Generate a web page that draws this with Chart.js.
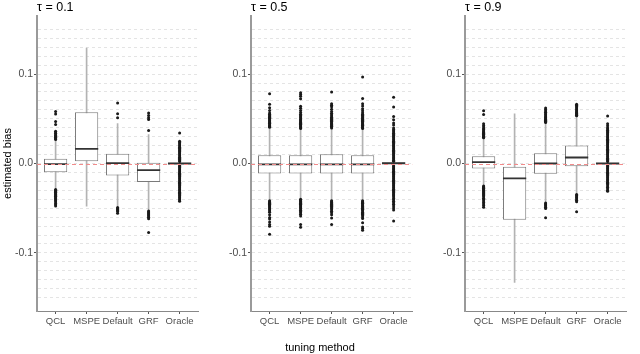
<!DOCTYPE html>
<html>
<head>
<meta charset="utf-8">
<script src="https://cdn.jsdelivr.net/npm/chart.js@4"></script>
<style>
  body { margin: 0; background: #fff; width: 640px; height: 354px; overflow: hidden; }
  .panel { position: absolute; top: 0; height: 354px; }
  #xtitle { position: absolute; left: 0; top: 340px; width: 640px; text-align: center;
            font: 11px "Liberation Sans", Arial, sans-serif; line-height: 14px; color: #000; }
</style>
</head>
<body>
<div class="panel" style="left:0;width:212px"><canvas id="c1"></canvas></div>
<div class="panel" style="left:214px;width:212px"><canvas id="c2"></canvas></div>
<div class="panel" style="left:428px;width:212px"><canvas id="c3"></canvas></div>
<div id="xtitle">tuning method</div>
<script>
const methods = ['QCL', 'MSPE', 'Default', 'GRF', 'Oracle'];
const yGrid = [-0.15, -0.14, -0.13, -0.12, -0.11, -0.1, -0.09, -0.08, -0.07, -0.06, -0.05, -0.04, -0.03, -0.02, -0.01, 0,
               0.01, 0.02, 0.03, 0.04, 0.05, 0.06, 0.07, 0.08, 0.09, 0.1, 0.11, 0.12, 0.13, 0.14, 0.15];
const yLabelled = [-0.1, 0, 0.1];
const yLabelText = ['-0.1', '0.0', '0.1'];

// tau = 0.1
const q1A  = [-0.0097, 0.0026, -0.0134, -0.0208, -0.0007];
const medA = [-0.0006, 0.0164, 0.0004, -0.0075, 0.0];
const q3A  = [0.0052, 0.0572, 0.0108, 0.0008, 0.0007];
const loA  = [-0.028, -0.0476, -0.048, -0.052, -0.002];
const hiA  = [0.026, 0.129, 0.0446, 0.0323, 0.002];
const outA = [
  [0.0268, 0.0276, 0.0284, 0.0293, 0.0301, 0.0312, 0.0323, 0.0338, 0.0352, 0.0362, 0.0435, 0.0471, 0.0554, 0.0583,
   -0.0291, -0.0298, -0.0306, -0.0314, -0.0322, -0.0331, -0.0339, -0.0348, -0.0357, -0.0366, -0.0375, -0.0385,
   -0.0394, -0.0405, -0.0418, -0.0431, -0.0447, -0.0462, -0.0476],
  [],
  [0.0512, 0.0557, 0.0677, -0.0492, -0.0503, -0.0514, -0.0526, -0.0538, -0.0556],
  [0.0368, 0.0492, 0.0513, 0.0538, 0.0565, -0.0531, -0.0542, -0.0553, -0.0565, -0.0577, -0.0588, -0.0601, -0.0618, -0.0773],
  [0.0022, 0.0034, 0.0047, 0.0058, 0.0071, 0.0083, 0.0096, 0.0108, 0.0121, 0.0133, 0.0146, 0.0158, 0.0171, 0.0183,
   0.0196, 0.0208, 0.0221, 0.0236, 0.0249, 0.0342,
   -0.0021, -0.0033, -0.0046, -0.0058, -0.0071, -0.0083, -0.0096, -0.0108, -0.0121, -0.0134, -0.0146, -0.0159,
   -0.0171, -0.0184, -0.0197, -0.0209, -0.0222, -0.0234, -0.0247, -0.0259, -0.0272, -0.0284, -0.0297, -0.0309,
   -0.0322, -0.0334, -0.0347, -0.0359, -0.0372, -0.0384, -0.0397, -0.0409, -0.0421]
];

// tau = 0.5
const q1B  = [-0.0112, -0.0112, -0.0112, -0.0112, -0.0005];
const medB = [-0.001, -0.001, -0.001, -0.001, 0.0003];
const q3B  = [0.0092, 0.0092, 0.0103, 0.0092, 0.0012];
const loB  = [-0.041, -0.039, -0.041, -0.041, -0.002];
const hiB  = [0.039, 0.038, 0.039, 0.038, 0.0022];
const outB = [
  [0.0405, 0.0414, 0.0423, 0.0432, 0.0441, 0.0450, 0.0459, 0.0468, 0.0478, 0.0487, 0.0497, 0.0506, 0.0516, 0.0527,
   0.0538, 0.0551, 0.0566, 0.0593, 0.0625, 0.0662, 0.0781,
   -0.0418, -0.0427, -0.0436, -0.0446, -0.0455, -0.0465, -0.0474, -0.0484, -0.0495, -0.0506, -0.0518, -0.0531,
   -0.0545, -0.0572, -0.0604, -0.0621, -0.0655, -0.0683, -0.0702, -0.0791],
  [0.0392, 0.0401, 0.0411, 0.0420, 0.0430, 0.0439, 0.0449, 0.0458, 0.0468, 0.0478, 0.0489, 0.0499, 0.0511, 0.0524,
   0.0537, 0.0552, 0.0571, 0.0593, 0.0618, 0.0641, 0.0723, 0.0751, 0.0772, 0.0791,
   -0.0399, -0.0408, -0.0417, -0.0426, -0.0436, -0.0445, -0.0455, -0.0465, -0.0475, -0.0486, -0.0497, -0.0509,
   -0.0522, -0.0536, -0.0551, -0.0568, -0.0587, -0.0682, -0.0712],
  [0.0398, 0.0407, 0.0416, 0.0425, 0.0435, 0.0444, 0.0454, 0.0464, 0.0474, 0.0484, 0.0495, 0.0506, 0.0518, 0.0531,
   0.0545, 0.0561, 0.0583, 0.0608, 0.0634, 0.0652, 0.0668, 0.0799,
   -0.0418, -0.0427, -0.0437, -0.0447, -0.0457, -0.0468, -0.0479, -0.0491, -0.0504, -0.0518, -0.0533, -0.0552,
   -0.0574, -0.0609, -0.0681],
  [0.0392, 0.0401, 0.0410, 0.0419, 0.0428, 0.0437, 0.0446, 0.0455, 0.0465, 0.0474, 0.0484, 0.0494, 0.0504, 0.0515,
   0.0527, 0.0539, 0.0552, 0.0567, 0.0589, 0.0613, 0.0642, 0.0668, 0.0728, 0.0967,
   -0.0418, -0.0427, -0.0436, -0.0445, -0.0454, -0.0463, -0.0472, -0.0481, -0.0491, -0.0501, -0.0511, -0.0521,
   -0.0532, -0.0544, -0.0556, -0.0569, -0.0583, -0.0598, -0.0614, -0.0663, -0.0711, -0.0728, -0.0746],
  [0.0024, 0.0036, 0.0049, 0.0061, 0.0074, 0.0086, 0.0099, 0.0111, 0.0124, 0.0136, 0.0149, 0.0161, 0.0174, 0.0186,
   0.0199, 0.0211, 0.0224, 0.0237, 0.0249, 0.0262, 0.0274, 0.0287, 0.0299, 0.0312, 0.0325, 0.0338, 0.0352, 0.0367,
   0.0381, 0.0398, 0.0431, 0.0452, 0.0489, 0.0526, 0.0631, 0.0741,
   -0.0024, -0.0037, -0.0049, -0.0062, -0.0074, -0.0087, -0.0099, -0.0112, -0.0124, -0.0137, -0.0149, -0.0162,
   -0.0174, -0.0187, -0.0199, -0.0212, -0.0224, -0.0237, -0.0249, -0.0262, -0.0274, -0.0287, -0.0299, -0.0312,
   -0.0324, -0.0337, -0.0349, -0.0362, -0.0376, -0.0391, -0.0405, -0.0421, -0.0438, -0.0457, -0.0476, -0.0498,
   -0.0521, -0.0642]
];

// tau = 0.9
const q1C  = [-0.0056, -0.063, -0.0115, -0.003, -0.0007];
const medC = [0.0015, -0.0167, 0.0, 0.0067, 0.0];
const q3C  = [0.0082, -0.0037, 0.0115, 0.020, 0.0008];
const loC  = [-0.024, -0.133, -0.043, -0.0345, -0.002];
const hiC  = [0.028, 0.0557, 0.0455, 0.053, 0.002];
const outC = [
  [0.0287, 0.0295, 0.0303, 0.0311, 0.0319, 0.0328, 0.0337, 0.0346, 0.0356, 0.0367, 0.0379, 0.0392, 0.0408, 0.0425,
   0.0446, 0.0548, 0.0591,
   -0.0251, -0.0259, -0.0268, -0.0276, -0.0285, -0.0294, -0.0303, -0.0313, -0.0324, -0.0335, -0.0347, -0.0359,
   -0.0373, -0.0388, -0.0403, -0.0419, -0.0436, -0.0452, -0.0471, -0.0489],
  [],
  [0.0458, 0.0466, 0.0474, 0.0483, 0.0492, 0.0501, 0.0511, 0.0521, 0.0532, 0.0544, 0.0557, 0.0572, 0.0588, 0.0604,
   0.0621, -0.0441, -0.0452, -0.0463, -0.0476, -0.0489, -0.0502, -0.0606],
  [0.0533, 0.0541, 0.0549, 0.0558, 0.0567, 0.0577, 0.0588, 0.0599, 0.0611, 0.0624, 0.0638, 0.0651, 0.0663,
   -0.0348, -0.0359, -0.0371, -0.0384, -0.0397, -0.0412, -0.0428, -0.0541],
  [0.0022, 0.0034, 0.0047, 0.0059, 0.0072, 0.0084, 0.0097, 0.0109, 0.0122, 0.0134, 0.0147, 0.0159, 0.0172, 0.0184,
   0.0197, 0.0209, 0.0222, 0.0234, 0.0247, 0.0259, 0.0272, 0.0284, 0.0297, 0.0309, 0.0322, 0.0334, 0.0347, 0.0359,
   0.0372, 0.0386, 0.0401, 0.0423, 0.0446, 0.0532,
   -0.0022, -0.0034, -0.0047, -0.0059, -0.0072, -0.0084, -0.0097, -0.0109, -0.0122, -0.0134, -0.0147, -0.0159,
   -0.0172, -0.0184, -0.0197, -0.0209, -0.0222, -0.0236, -0.0251, -0.0266, -0.0283, -0.0298, -0.0311]
];

Chart.defaults.font.family = '"Liberation Sans", Arial, sans-serif';

const isLabelled = v => yLabelled.some(t => Math.abs(t - v) < 1e-9);

// red dashed reference line at 0, on top of the boxes
const zeroLine = {
  id: 'zeroLine',
  afterDatasetsDraw(chart) {
    const {ctx, chartArea: a, scales: {y}} = chart;
    const py = Math.round(y.getPixelForValue(0)) + 0.5;
    ctx.save();
    ctx.strokeStyle = '#f28b8b';
    ctx.lineWidth = 1;
    ctx.setLineDash([4, 3]);
    ctx.beginPath();
    ctx.moveTo(a.left, py);
    ctx.lineTo(a.right, py);
    ctx.stroke();
    ctx.restore();
  }
};

// facet strip title, left aligned with the panel
const panelTitle = {
  id: 'panelTitle',
  afterDraw(chart, args, opts) {
    const ctx = chart.ctx;
    ctx.save();
    ctx.font = '12.5px "Liberation Sans", Arial, sans-serif';
    ctx.fillStyle = '#000';
    ctx.textBaseline = 'middle';
    ctx.fillText(opts.text, chart.chartArea.left, 8);
    ctx.restore();
  }
};

function boxHalf(chart) {
  const a = chart.chartArea;
  return a ? (a.right - a.left) / 5.2 * 0.75 / 2 : 12;
}

function makePanel(id, tau, q1, med, q3, lo, hi, out, yTitle) {
  const pos = methods.map((m, i) => i + 1);
  new Chart(document.getElementById(id), {
    type: 'bar',
    data: {
      datasets: [
        {
          type: 'line', label: 'outliers', order: 0, showLine: false,
          data: out.flatMap((vals, i) => vals.map(v => ({x: pos[i], y: v}))),
          pointRadius: 1.5, pointBackgroundColor: '#1a1a1a', pointBorderWidth: 0
        },
        {
          type: 'line', label: 'median', order: 1, showLine: false,
          data: med.map((v, i) => ({x: pos[i], y: v})),
          pointStyle: 'line', pointRadius: ctx => boxHalf(ctx.chart),
          pointBorderColor: '#333', pointBorderWidth: 1.8
        },
        {
          type: 'bar', label: 'box', order: 2, grouped: false,
          data: q1.map((v, i) => ({x: pos[i], y: [v, q3[i]]})),
          backgroundColor: '#fff', borderColor: '#7a7a7a', borderWidth: 1, borderSkipped: false,
          barPercentage: 0.75, categoryPercentage: 1
        },
        {
          type: 'bar', label: 'whisker', order: 3, grouped: false,
          data: lo.map((v, i) => ({x: pos[i], y: [v, hi[i]]})),
          backgroundColor: '#b3b3b3', barThickness: 1
        }
      ]
    },
    options: {
      responsive: true,
      maintainAspectRatio: false,
      animation: false,
      events: [],
      layout: { padding: { top: 16, right: 2, left: 0, bottom: 0 } },
      plugins: {
        legend: { display: false },
        tooltip: { enabled: false },
        panelTitle: { text: 'τ = ' + tau }
      },
      scales: {
        x: {
          type: 'linear', min: 0.4, max: 5.6, offset: false,
          afterBuildTicks: axis => { axis.ticks = pos.map(v => ({value: v})); },
          afterFit: axis => { axis.height = 43; },
          ticks: { callback: v => methods[v - 1], color: '#4d4d4d', font: { size: 9.5 }, padding: 2,
                   autoSkip: false, maxRotation: 0 },
          grid: { display: true, drawOnChartArea: false, offset: false, tickLength: 3, tickColor: '#555' },
          border: { color: '#888', width: 1 }
        },
        y: {
          min: -0.165, max: 0.165,
          afterBuildTicks: axis => { axis.ticks = yGrid.map(v => ({value: v})); },
          afterFit: axis => { axis.width = 37; },
          ticks: {
            autoSkip: false, color: '#4d4d4d', font: { size: 10.5 }, padding: 1,
            callback: v => { const k = yLabelled.findIndex(t => Math.abs(t - v) < 1e-9); return k < 0 ? '' : yLabelText[k]; }
          },
          grid: {
            color: '#e4e4e4', lineWidth: 1, tickLength: 3,
            tickColor: ctx => (ctx.tick && isLabelled(ctx.tick.value)) ? '#555' : 'rgba(0,0,0,0)'
          },
          border: { color: '#9a9a9a', width: 2, dash: [3, 3] },
          title: { display: yTitle, text: 'estimated bias', color: '#000', font: { size: 11 }, padding: { top: 1, bottom: 0 } }
        }
      }
    },
    plugins: [zeroLine, panelTitle]
  });
}

makePanel('c1', '0.1', q1A, medA, q3A, loA, hiA, outA, true);
makePanel('c2', '0.5', q1B, medB, q3B, loB, hiB, outB, false);
makePanel('c3', '0.9', q1C, medC, q3C, loC, hiC, outC, false);
</script>
</body>
</html>
